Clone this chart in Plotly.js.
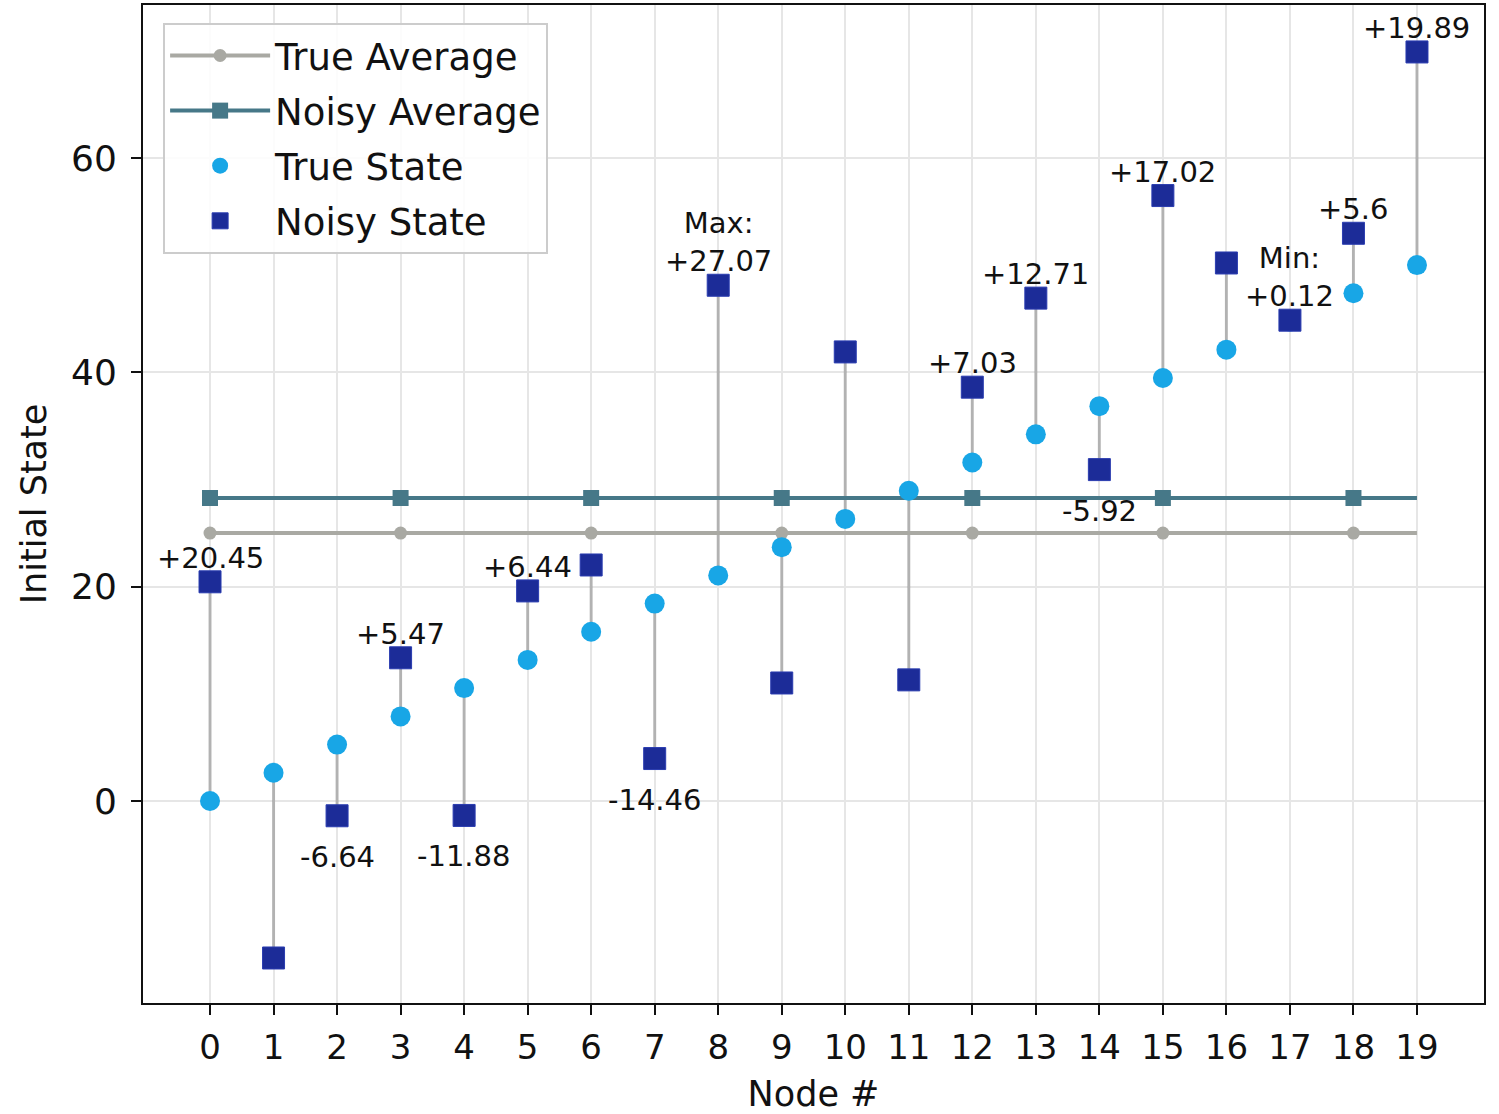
<!DOCTYPE html>
<html>
<head>
<meta charset="utf-8">
<script src="https://cdn.plot.ly/plotly-3.0.1.min.js"></script>
<style>html,body{margin:0;padding:0;background:#fff;}#chart{width:1499px;height:1114px;}</style>
</head>
<body>
<div id="chart"></div>
<script>
const nodes = [0,1,2,3,4,5,6,7,8,9,10,11,12,13,14,15,16,17,18,19];
const trueState = [0,2.63,5.26,7.89,10.53,13.16,15.79,18.42,21.05,23.68,26.32,28.95,31.58,34.21,36.84,39.47,42.11,44.74,47.37,50.0];
const noisyState = [20.45,-14.65,-1.38,13.36,-1.35,19.60,22.02,3.96,48.12,11.01,41.9,11.3,38.61,46.92,30.92,56.49,50.2,44.86,52.97,69.89];
const trueAverage = 25.0;
const noisyAverage = 28.27;
const avgMarkerNodes = [0,3,6,9,12,15,18];
const labelNodes = [0,2,3,4,5,7,8,12,13,14,15,17,18,19];
const labelTexts = ["+20.45","-6.64","+5.47","-11.88","+6.44","-14.46","Max:<br>+27.07","+7.03","+12.71","-5.92","+17.02","Min:<br>+0.12","+5.6","+19.89"];

const FONT = "DejaVu Sans, sans-serif";

// connecting segments
const segX = [], segY = [];
nodes.forEach((n,i)=>{ segX.push(n,n,null); segY.push(trueState[i],noisyState[i],null); });

const traces = [
  {x:segX, y:segY, mode:'lines', line:{color:'rgba(150,150,150,0.65)', width:3}, showlegend:false, hoverinfo:'skip'},
  {x:[nodes[0], nodes[nodes.length-1]], y:[trueAverage,trueAverage], mode:'lines', line:{color:'#a9a9a3', width:4}, showlegend:false, hoverinfo:'skip'},
  {x:avgMarkerNodes, y:avgMarkerNodes.map(()=>trueAverage), mode:'lines+markers', name:'True Average', legendgroup:'a',
   line:{color:'#a9a9a3', width:4}, marker:{symbol:'circle', size:13, color:'#a9a9a3'}},
  {x:[nodes[0], nodes[nodes.length-1]], y:[noisyAverage,noisyAverage], mode:'lines', line:{color:'#467888', width:4}, showlegend:false, hoverinfo:'skip'},
  {x:avgMarkerNodes, y:avgMarkerNodes.map(()=>noisyAverage), mode:'lines+markers', name:'Noisy Average', legendgroup:'b',
   line:{color:'#467888', width:4}, marker:{symbol:'square', size:16, color:'#467888'}},
  {x:nodes, y:trueState, mode:'markers', name:'True State', legendgroup:'c',
   marker:{symbol:'circle', size:20, color:'#18a6e6'}},
  {x:nodes, y:noisyState, mode:'markers', name:'Noisy State', legendgroup:'d',
   marker:{symbol:'square', size:22, color:'#1c2c98', line:{color:'#2a3cb0', width:1}}}
];

const annotations = labelNodes.map((n,k)=>{
  const pos = labelTexts[k].indexOf('-') !== 0;
  return {x:n, y:noisyState[n], xref:'x', yref:'y', text:labelTexts[k], showarrow:false,
    xanchor:'center', yanchor: pos ? 'bottom' : 'top', yshift: pos ? 5 : -22,
    font:{family:FONT, size:29, color:'#111'}};
});

const layout = {
  width:1499, height:1114,
  margin:{l:143, r:15, t:5, b:111},
  paper_bgcolor:'#fff', plot_bgcolor:'#fff',
  font:{family:FONT, color:'#111'},
  showlegend:true,
  legend:{x:0.015, y:0.982, xanchor:'left', yanchor:'top', bgcolor:'rgba(255,255,255,0.85)',
    bordercolor:'#cccccc', borderwidth:2, font:{family:FONT, size:37, color:'#111'},
    tracegroupgap:4, itemwidth:100},
  xaxis:{range:[-1.055,20.055], tickvals:nodes, ticktext:nodes.map(String),
    showgrid:true, gridcolor:'#e6e6e6', gridwidth:2, zeroline:false,
    showline:true, linecolor:'#111', linewidth:2, mirror:true,
    ticks:'outside', ticklen:10, tickwidth:2, tickcolor:'#111', ticklabelstandoff:3,
    tickfont:{family:FONT, size:34, color:'#111'},
    title:{text:'Node #', font:{family:FONT, size:35, color:'#111'}, standoff:25}},
  yaxis:{range:[-18.85,74.27], tickvals:[0,20,40,60],
    showgrid:true, gridcolor:'#e6e6e6', gridwidth:2, zeroline:false,
    showline:true, linecolor:'#111', linewidth:2, mirror:true,
    ticks:'outside', ticklen:10, tickwidth:2, tickcolor:'#111', ticklabelstandoff:7,
    tickfont:{family:FONT, size:36, color:'#111'},
    title:{text:'Initial State', font:{family:FONT, size:35, color:'#111'}, standoff:14}},
  annotations:annotations
};

Plotly.newPlot('chart', traces, layout, {displayModeBar:false, staticPlot:true});
</script>
</body>
</html>
